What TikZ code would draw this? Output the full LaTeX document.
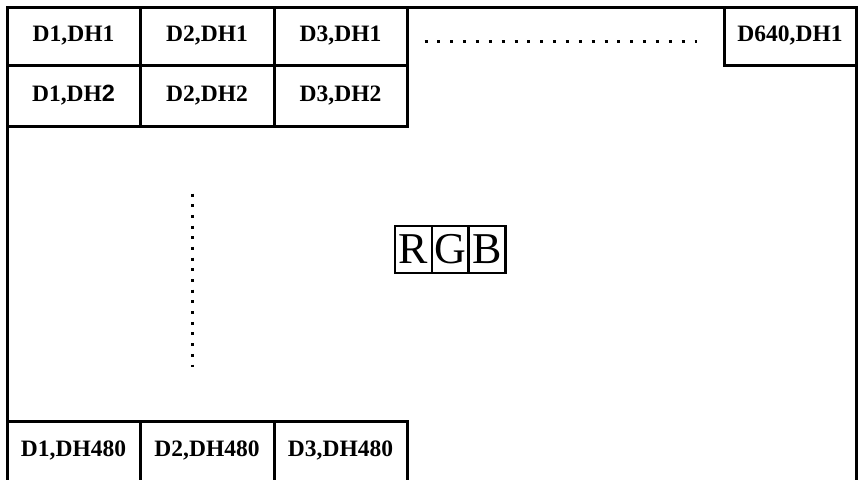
\documentclass[tikz,border=0pt]{standalone}
\usepackage{fontspec}
\setmainfont{Liberation Serif}
\newfontfamily\arialfont{Liberation Sans}
\begin{document}
\begin{tikzpicture}[x=1pt,y=-1pt,
  lbl/.style={font=\fontsize{23.5}{27}\selectfont\bfseries},
  cell/.style={draw, line width=3pt, inner sep=0pt, minimum height=#1, lbl},
  cell/.default=58pt,
  rgbbox/.style={draw, line width=2.2pt, inner sep=0pt, minimum width=37pt, minimum height=47pt,
     font=\fontsize{44}{48}\selectfont},
  dotline/.style={line width=3pt, line cap=butt}]
\useasboundingbox (0,0) rectangle (861,479);
\clip (0,0) rectangle (861,479);
% outer frame
\coordinate (fa) at (7,7);
\coordinate (fb) at (856,500);
\draw[line width=3pt] (fa) rectangle (fb);
% top row
\node[cell, minimum width=133pt] (c11) at (73.5,36) {D1,DH1};
\node[cell, minimum width=134pt] (c21) at (207,36) {D2,DH1};
\node[cell, minimum width=133pt] (c31) at (340.5,36) {D3,DH1};
\node[cell, minimum width=132pt] (c641) at (790,36) {D640,DH1};
% second row
\node[cell=61pt, minimum width=133pt] (c12) at (73.5,95.5) {D1,DH{\arialfont 2}};
\node[cell=61pt, minimum width=134pt] (c22) at (207,95.5) {D2,DH2};
\node[cell=61pt, minimum width=133pt] (c32) at (340.5,95.5) {D3,DH2};
% bottom row
\node[cell=70pt, minimum width=133pt] (c1b) at (73.5,456) {};
\node[cell=70pt, minimum width=134pt] (c2b) at (207,456) {};
\node[cell=70pt, minimum width=133pt] (c3b) at (340.5,456) {};
\node[lbl] (t1b) at (73.5,450) {D1,DH480};
\node[lbl] (t2b) at (207,450) {D2,DH480};
\node[lbl] (t3b) at (340.5,450) {D3,DH480};
% dotted lines
\coordinate (hs) at (424.5,41);
\coordinate (he) at (697,41);
\draw[dotline, dash pattern=on 3pt off 9.86pt] (hs) -- (he);
\coordinate (vs) at (192,193.5);
\coordinate (ve) at (192,367);
\draw[dotline, dash pattern=on 3pt off 7.69pt] (vs) -- (ve);
% RGB
\node[rgbbox] (r) at (413.5,249.5) {R};
\node[rgbbox] (g) at (450.5,249.5) {G};
\node[rgbbox] (b) at (487,249.5) {B};
\end{tikzpicture}
\end{document}
